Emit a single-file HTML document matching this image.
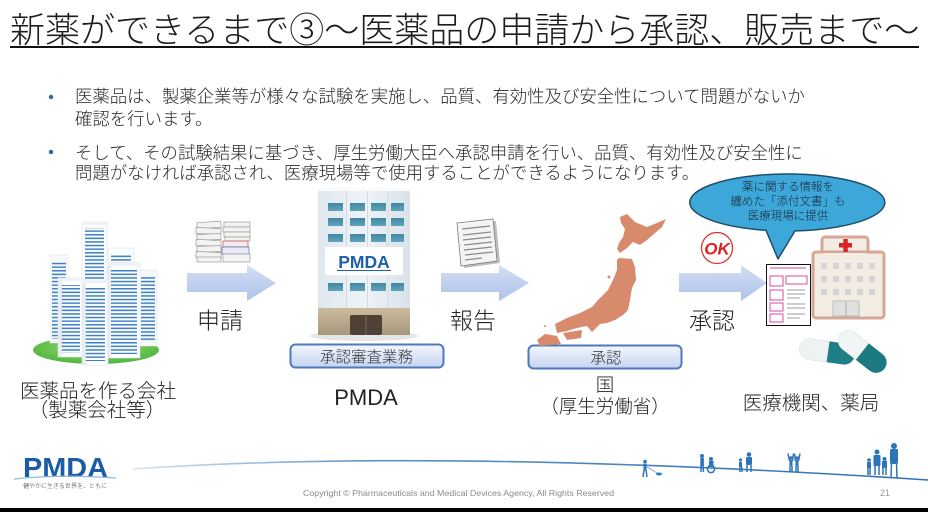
<!DOCTYPE html>
<html><head><meta charset="utf-8">
<style>
html,body{margin:0;padding:0;background:#fff;}
#c{position:relative;width:928px;height:512px;overflow:hidden;background:#fff;}
svg{position:absolute;left:0;top:0;}
text{font-family:"Liberation Sans","Noto Sans CJK JP",sans-serif;font-weight:300;}
</style></head><body><div id="c">
<svg width="928" height="512" viewBox="0 0 928 512" xmlns="http://www.w3.org/2000/svg">
<defs>
<linearGradient id="arG" x1="0" y1="0" x2="0" y2="1"><stop offset="0" stop-color="#d3def4"/><stop offset="1" stop-color="#afc3e9"/></linearGradient>
<linearGradient id="boxG" x1="0" y1="0" x2="0" y2="1"><stop offset="0" stop-color="#f4f7fe"/><stop offset="1" stop-color="#c4d4f1"/></linearGradient>
<pattern id="st" width="4" height="3.6" patternUnits="userSpaceOnUse"><rect x="0" y="0" width="4" height="1.5" fill="#3e7fc6"/></pattern>
<linearGradient id="pb" x1="0" y1="0" x2="1" y2="0"><stop offset="0" stop-color="#dfe7ee"/><stop offset=".5" stop-color="#eef3f7"/><stop offset="1" stop-color="#d9e2ea"/></linearGradient>
<linearGradient id="base" x1="0" y1="0" x2="0" y2="1"><stop offset="0" stop-color="#cbbb9d"/><stop offset="1" stop-color="#a8967a"/></linearGradient>
<linearGradient id="win" x1="0" y1="0" x2="0" y2="1"><stop offset="0" stop-color="#3f88a3"/><stop offset="1" stop-color="#62a3bb"/></linearGradient>
<radialGradient id="grass" cx=".5" cy=".4" r=".6"><stop offset="0" stop-color="#9be07a"/><stop offset="1" stop-color="#4fb43c"/></radialGradient>
<linearGradient id="curve" x1="0" y1="0" x2="1" y2="0"><stop offset="0" stop-color="#3a78b8" stop-opacity=".2"/><stop offset=".3" stop-color="#3a78b8" stop-opacity=".8"/><stop offset="1" stop-color="#2e6fb3"/></linearGradient>
</defs>

<!-- Title -->
<text x="10" y="42.3" font-size="35" fill="#1c1c1c">新薬ができるまで③～医薬品の申請から承認、販売まで～</text>
<rect x="10" y="46" width="909" height="2" fill="#111"/>

<!-- Bullets -->
<circle cx="51" cy="97" r="2.2" fill="#2c6b92"/>
<circle cx="51" cy="152" r="2.2" fill="#2c6b92"/>
<g font-size="17.4" fill="#2a2a2a">
<text x="75" y="102.6">医薬品は、製薬企業等が様々な試験を実施し、品質、有効性及び安全性について問題がないか</text>
<text x="75" y="125">確認を行います。</text>
<text x="75" y="159">そして、その試験結果に基づき、厚生労働大臣へ承認申請を行い、品質、有効性及び安全性に</text>
<text x="75" y="179">問題がなければ承認され、医療現場等で使用することができるようになります。</text>
</g>

<!-- Company buildings -->
<ellipse cx="96" cy="350" rx="63" ry="14" fill="url(#grass)"/>
<g stroke="#dfe5ec" stroke-width=".6">
<rect x="82" y="222" width="25" height="80" fill="#fbfcfd"/>
<rect x="50" y="255" width="18" height="88" fill="#f6f8fa"/>
<rect x="108" y="248" width="26" height="82" fill="#fbfcfd"/>
<rect x="139" y="270" width="18" height="76" fill="#f6f8fa"/>
</g>
<g fill="url(#st)">
<rect x="85" y="228" width="19" height="70"/>
<rect x="52" y="261" width="14" height="78"/>
<rect x="111" y="254" width="20" height="72"/>
<rect x="141" y="276" width="14" height="66"/>
</g>
<g stroke="#dfe5ec" stroke-width=".6">
<rect x="58" y="278" width="25" height="79" fill="#fcfdfe"/>
<rect x="107" y="263" width="33" height="95" fill="#fcfdfe"/>
<rect x="82" y="280" width="26" height="85" fill="#ffffff"/>
</g>
<g fill="url(#st)">
<rect x="61" y="285" width="19" height="68"/>
<rect x="111" y="270" width="26" height="84"/>
<rect x="85" y="287" width="20" height="74"/>
</g>
<rect x="58" y="278" width="4" height="79" fill="#e3e9ef" opacity=".8"/>
<rect x="82" y="280" width="4" height="85" fill="#e3e9ef" opacity=".8"/>
<rect x="107" y="263" width="4" height="95" fill="#e3e9ef" opacity=".8"/>
<rect x="82" y="222" width="25" height="3" fill="#eef2f6"/>
<rect x="58" y="278" width="25" height="3" fill="#eef2f6"/>
<rect x="82" y="280" width="26" height="3" fill="#eef2f6"/>
<rect x="107" y="263" width="33" height="3" fill="#eef2f6"/>

<!-- Arrows -->
<polygon points="187,273 247,273 247,265 276,283 247,301 247,292 187,292" fill="url(#arG)"/>
<polygon points="441,273 499,273 499,265 529,283 499,301 499,292 441,292" fill="url(#arG)"/>
<polygon points="679,273 741,273 741,265 767,283 741,301 741,292 679,292" fill="url(#arG)"/>

<!-- papers icon 1 -->
<g stroke="#9a9a9a" stroke-width=".7" fill="#f3f3f1">
<rect x="197" y="222" width="24" height="6" transform="rotate(-4 209 225)"/>
<rect x="196" y="228" width="25" height="6" transform="rotate(3 209 231)"/>
<rect x="197" y="234" width="24" height="6" transform="rotate(-3 209 237)"/>
<rect x="196" y="240" width="25" height="6" transform="rotate(4 209 243)"/>
<rect x="197" y="246" width="24" height="6" transform="rotate(-2 209 249)"/>
<rect x="196" y="252" width="25" height="6" transform="rotate(3 209 255)"/>
<rect x="197" y="257" width="24" height="5"/>
<rect x="224" y="222" width="26" height="5"/>
<rect x="223" y="227" width="27" height="5"/>
<rect x="224" y="232" width="26" height="5"/>
<rect x="225" y="237" width="25" height="4"/>
<rect x="223" y="241" width="25" height="6" fill="#f3e9ec" stroke="#c44a5a"/>
<rect x="222" y="247" width="27" height="7" fill="#e9ecf6" stroke="#5a67b0"/>
<rect x="223" y="254" width="27" height="8"/>
</g>

<!-- report icon -->
<polygon points="460,225 496,221 500,263 464,268" fill="#bdbdbd"/>
<polygon points="457,223 493,219 497,261 461,266" fill="#f4f4f2" stroke="#7d7d7d" stroke-width=".8"/>
<g stroke="#8a8a8a" stroke-width="1.2">
<line x1="462" y1="229" x2="490" y2="226"/><line x1="463" y1="235" x2="491" y2="232"/>
<line x1="463" y1="240" x2="491" y2="237"/><line x1="464" y1="245" x2="492" y2="242"/>
<line x1="464" y1="250" x2="492" y2="247"/><line x1="465" y1="255" x2="493" y2="252"/>
<line x1="465" y1="260" x2="482" y2="258"/>
</g>

<!-- PMDA building -->
<ellipse cx="364" cy="336" rx="54" ry="5" fill="#e6e6e6"/>
<rect x="318" y="188" width="92" height="122" fill="url(#pb)"/>
<rect x="318" y="188" width="92" height="3" fill="#f8fafc"/>
<g stroke="#d2dbe3" stroke-width="1"><line x1="346.5" y1="191" x2="346.5" y2="308"/><line x1="367.5" y1="191" x2="367.5" y2="308"/><line x1="388" y1="191" x2="388" y2="308"/></g>
<g fill="url(#win)">
<rect x="328" y="203" width="15" height="8"/><rect x="350" y="203" width="15" height="8"/><rect x="371" y="203" width="15" height="8"/><rect x="391" y="203" width="13" height="8"/>
<rect x="328" y="218" width="15" height="8"/><rect x="350" y="218" width="15" height="8"/><rect x="371" y="218" width="15" height="8"/><rect x="391" y="218" width="13" height="8"/>
<rect x="328" y="234" width="15" height="8"/><rect x="350" y="234" width="15" height="8"/><rect x="371" y="234" width="15" height="8"/><rect x="391" y="234" width="13" height="8"/>
<rect x="328" y="283" width="15" height="8"/><rect x="350" y="283" width="15" height="8"/><rect x="371" y="283" width="15" height="8"/><rect x="391" y="283" width="13" height="8"/>
</g>
<rect x="325" y="247" width="78" height="28" fill="#fff"/>
<text x="364" y="268" font-size="17.5" style="font-weight:bold" fill="#2060a8" text-anchor="middle">PMDA</text>
<line x1="337" y1="270.5" x2="391" y2="270.5" stroke="#2060a8" stroke-width="1"/>
<rect x="318" y="308" width="92" height="27" fill="url(#base)"/>
<rect x="350" y="315" width="32" height="20" rx="2" fill="#4d4235"/>
<line x1="366" y1="316" x2="366" y2="335" stroke="#7a6a58" stroke-width="1"/>

<!-- Boxes -->
<rect x="290.5" y="344.5" width="153" height="23" rx="5" fill="url(#boxG)" stroke="#4f79bb" stroke-width="2"/>
<rect x="528.5" y="345.5" width="153" height="23" rx="5" fill="url(#boxG)" stroke="#4f79bb" stroke-width="2"/>
<text x="366.5" y="362" font-size="15.5" fill="#333" text-anchor="middle">承認審査業務</text>
<text x="606" y="363" font-size="15.5" fill="#333" text-anchor="middle">承認</text>

<!-- Japan -->
<g fill="#d88a6c">
<polygon points="620,217 627,214 635,222 647,227 657,223 666,219 662,227 655,233 647,240 640,245 633,242 627,248 620,253 617,249 619,243 623,237 625,229 621,223"/>
<polygon points="619,258 632,259 635,267 636,280 632,288 630,300 628,310 623,315 615,320 607,323 600,324 592,332 587,326 577,328 567,331 557,333 555,324 567,318 580,313 592,307 598,300 603,295 608,290 613,280 617,270 617,260"/>
<polygon points="563,333 582,330 581,338 567,340"/>
<polygon points="545,334 557,336 561,344 540,346 537,340"/>
<circle cx="609" cy="277" r="1.5"/><circle cx="545" cy="326" r="1"/>
</g>

<!-- OK stamp -->
<circle cx="717" cy="248" r="15.5" fill="#fff" stroke="#e03030" stroke-width="1.3"/>
<text x="717" y="254.5" font-size="17" style="font-weight:bold" font-style="italic" fill="#e02020" text-anchor="middle">OK</text>

<!-- speech bubble -->
<path d="M795,230.9 A97.5,28.5 0 1 0 766,230.3 L778,259 Z" fill="#3ca7d8" stroke="#1e4f6a" stroke-width="1.5" stroke-linejoin="round"/>
<g font-size="11.5" fill="#1a2535" text-anchor="middle">
<text x="788" y="190.4">薬に関する情報を</text>
<text x="788" y="205">纏めた「添付文書」も</text>
<text x="788" y="219.4">医療現場に提供</text>
</g>

<!-- document -->
<rect x="766.5" y="264.5" width="44" height="61" fill="#fff" stroke="#111" stroke-width="1"/>
<g stroke="#d84aa0" stroke-width="1">
<line x1="770" y1="268" x2="806" y2="268"/>
<rect x="770" y="276" width="13" height="10" fill="none"/><rect x="770" y="290" width="13" height="10" fill="none"/>
<rect x="770" y="303" width="13" height="8" fill="none"/><rect x="770" y="314" width="13" height="8" fill="none"/>
<rect x="786" y="276" width="21" height="8" fill="none"/>
</g>
<g stroke="#777" stroke-width=".7">
<line x1="787" y1="290" x2="805" y2="290"/><line x1="787" y1="294" x2="805" y2="294"/><line x1="787" y1="298" x2="800" y2="298"/>
<line x1="787" y1="304" x2="805" y2="304"/><line x1="787" y1="308" x2="805" y2="308"/><line x1="787" y1="314" x2="805" y2="314"/><line x1="787" y1="318" x2="800" y2="318"/>
</g>

<!-- hospital -->
<rect x="822" y="237" width="46" height="24" rx="3" fill="#f2ece2" stroke="#d6a797" stroke-width="3"/>
<rect x="813" y="252" width="71" height="66" rx="3" fill="#f2ece2" stroke="#d6a797" stroke-width="3"/>
<rect x="824" y="253" width="42" height="6" fill="#f2ece2"/>
<rect x="839" y="243" width="13" height="4.5" fill="#d8262b"/><rect x="843.3" y="239" width="4.5" height="13" fill="#d8262b"/>
<g fill="#d4d4d4">
<rect x="821" y="263" width="6" height="6"/><rect x="833" y="263" width="6" height="6"/><rect x="845" y="263" width="6" height="6"/><rect x="857" y="263" width="6" height="6"/><rect x="869" y="263" width="6" height="6"/>
<rect x="821" y="276" width="6" height="6"/><rect x="833" y="276" width="6" height="6"/><rect x="845" y="276" width="6" height="6"/><rect x="857" y="276" width="6" height="6"/><rect x="869" y="276" width="6" height="6"/>
<rect x="821" y="289" width="6" height="6"/><rect x="833" y="289" width="6" height="6"/><rect x="845" y="289" width="6" height="6"/><rect x="857" y="289" width="6" height="6"/><rect x="869" y="289" width="6" height="6"/>
</g>
<rect x="833" y="301" width="26" height="15" fill="#e0e0e0" stroke="#bdbdbd" stroke-width="1"/>
<line x1="846" y1="302" x2="846" y2="316" stroke="#aaa"/>

<!-- capsules -->
<g transform="rotate(8 826 352)">
<rect x="799" y="341" width="56" height="21" rx="10.5" fill="#1f7f87"/>
<path d="M809.5,341 H828 V362 H809.5 A10.5,10.5 0 0 1 809.5,341 Z" fill="#eef2f2"/>
</g>
<g transform="rotate(38 862 352)">
<rect x="834" y="341" width="56" height="21" rx="10.5" fill="#1c7a83"/>
<path d="M844.5,341 H862 V362 H844.5 A10.5,10.5 0 0 1 844.5,341 Z" fill="#f2f5f5"/>
</g>

<!-- labels -->
<g fill="#222" text-anchor="middle">
<text x="220" y="328.7" font-size="23">申請</text>
<text x="473" y="328.7" font-size="23">報告</text>
<text x="712" y="328.7" font-size="23">承認</text>
<text x="98" y="397.4" font-size="19.5">医薬品を作る会社</text>
<text x="97" y="416.4" font-size="19.5">（製薬会社等）</text>
<text x="366" y="405" font-size="22">PMDA</text>
<text x="605" y="391.5" font-size="18.5">国</text>
<text x="605" y="413" font-size="18.5">（厚生労働省）</text>
<text x="811" y="409.4" font-size="19.5">医療機関、薬局</text>
</g>

<!-- footer -->
<path d="M133,469 Q440,448 928,480" fill="none" stroke="url(#curve)" stroke-width="1.6"/>
<text x="23" y="477" font-size="28" style="font-weight:bold" fill="#1a5ca8" textLength="85" lengthAdjust="spacingAndGlyphs">PMDA</text>
<path d="M14,479 Q60,474 116,478" fill="none" stroke="#8fb8de" stroke-width="1.2"/>
<text x="23" y="488" font-size="6.2" fill="#333" textLength="84" lengthAdjust="spacingAndGlyphs">健やかに生きる世界を、ともに</text>
<text x="303" y="496" font-size="8.4" fill="#8a8a8a" textLength="311" lengthAdjust="spacingAndGlyphs">Copyright © Pharmaceuticals and Medical Devices Agency, All Rights Reserved</text>
<text x="880" y="496" font-size="9" fill="#999">21</text>

<g fill="#2e74b9" stroke="none">
<circle cx="645" cy="461.5" r="1.8"/><rect x="643.5" y="463.5" width="3" height="7"/>
<circle cx="702" cy="456" r="2"/><rect x="700.3" y="458" width="3.6" height="8"/>
<circle cx="711" cy="459" r="2"/><rect x="709" y="461" width="4.5" height="6"/>
<circle cx="749" cy="454.5" r="2.3"/><rect x="746" y="457" width="6" height="8" rx="1"/>
<circle cx="740.5" cy="460" r="1.6"/><rect x="739" y="462" width="3" height="5"/>
<circle cx="791" cy="458" r="1.8"/><rect x="789.5" y="460" width="3" height="6"/>
<circle cx="797" cy="458" r="1.8"/><rect x="795.5" y="460" width="3" height="6"/>
<circle cx="894" cy="446" r="3"/><rect x="890" y="449" width="8" height="15" rx="1.5"/>
<circle cx="877" cy="452" r="2.5"/><rect x="873.5" y="455" width="7" height="11" rx="1"/>
<circle cx="869" cy="460" r="1.8"/><rect x="867" y="462" width="4" height="6"/>
<circle cx="884.5" cy="459" r="2"/><rect x="882" y="461" width="5" height="7"/>
</g>
<g stroke="#2e74b9" stroke-width="1.5" fill="none">
<path d="M644,470 L643,477 M646,470 L647,477"/>
<path d="M701,466 L701,472 M703,466 L703.5,472"/>
<circle cx="711" cy="469" r="3.6"/>
<path d="M747,465 L747,472 M751,465 L751,472"/>
<path d="M740,467 L740,472 M741.8,467 L742,472"/>
<path d="M790,466 L790,472 M792,466 L792,472 M789.5,461 L788,453.5 M792.5,461 L793.5,453.5"/>
<path d="M796,466 L796,472 M798,466 L798,472 M795.5,461 L794.5,453.5 M798.5,461 L800,453.5"/>
<path d="M891.5,463 L891,478 M896.5,463 L897,478"/>
<path d="M875,465 L875,475 M879,465 L879,475"/>
<path d="M868,467 L868,475 M870,467 L870,475"/>
<path d="M883,467 L883,475 M886,467 L886,475"/>
</g>
<line x1="647" y1="467" x2="657" y2="473" stroke="#2e74b9" stroke-width=".6"/>
<ellipse cx="659" cy="474" rx="3" ry="1.5" fill="#2e74b9"/>

<rect x="0" y="508" width="928" height="4" fill="#000"/>
</svg>
</div></body></html>
